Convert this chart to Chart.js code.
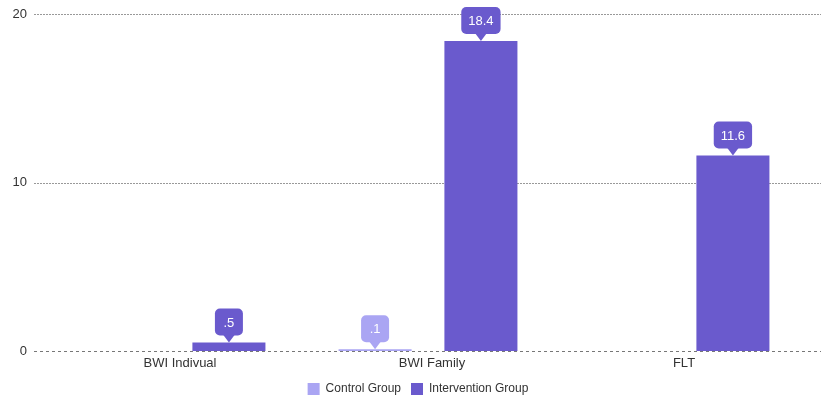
<!DOCTYPE html>
<html>
<head>
<meta charset="utf-8">
<script src="https://cdn.jsdelivr.net/npm/chart.js@4.4.1/dist/chart.umd.min.js"></script>
<style>
  html, body { margin: 0; padding: 0; background: #fff; }
  #wrap { width: 821px; height: 400px; }
</style>
</head>
<body>
<div id="wrap"><canvas id="myChart"></canvas></div>
<script>
const categories = ['BWI Indivual', 'BWI Family', 'FLT'];
const controlValues = [0, 0.1, 0];
const interventionValues = [0.5, 18.4, 11.6];
const yTicks = [0, 10, 20];

const controlColor = '#aaa5f3';
const interventionColor = '#6a5acd';
const font = '"Liberation Sans", Arial, sans-serif';

// short labels like ".5" instead of "0.5"
function fmt(v) {
  let s = String(v);
  if (s.startsWith('0.')) s = s.slice(1);
  return s;
}

const gridLines = {
  id: 'gridLines',
  beforeDatasetsDraw(chart) {
    const c = chart.ctx;
    const y = chart.scales.y;
    c.save();
    yTicks.forEach(t => {
      const py = Math.round(y.getPixelForValue(t)) + 0.5;
      c.beginPath();
      if (t === 0) {
        c.strokeStyle = '#777';
        c.setLineDash([3, 3]);
      } else {
        c.strokeStyle = '#999';
        c.setLineDash([2, 1]);
      }
      c.lineWidth = 1;
      c.moveTo(34, py);
      c.lineTo(chart.width, py);
      c.stroke();
    });
    c.restore();
  }
};

const valueTags = {
  id: 'valueTags',
  afterDatasetsDraw(chart) {
    const c = chart.ctx;
    c.save();
    c.font = '13px ' + font;
    c.textAlign = 'center';
    c.textBaseline = 'middle';
    chart.data.datasets.forEach((ds, i) => {
      const meta = chart.getDatasetMeta(i);
      meta.data.forEach((bar, j) => {
        const v = ds.data[j];
        if (!v) return;
        const txt = fmt(v);
        const w = Math.max(28, c.measureText(txt).width + 14);
        const h = 27, tip = 7, r = 5;
        const x = bar.x, yb = bar.y;
        const top = yb - tip - h;
        c.fillStyle = ds.backgroundColor;
        c.beginPath();
        c.roundRect(x - w / 2, top, w, h, r);
        c.fill();
        c.beginPath();
        c.moveTo(x - 6, top + h - 1);
        c.lineTo(x + 6, top + h - 1);
        c.lineTo(x, yb);
        c.closePath();
        c.fill();
        c.fillStyle = '#fff';
        c.fillText(txt, x, top + h / 2 + 1);
      });
    });
    c.restore();
  }
};

// legend sits a bit right of centre in the original
const legendShift = {
  id: 'legendShift',
  afterLayout(chart) {
    chart.legend.left += 15;
    chart.legend.right += 15;
  }
};

new Chart(document.getElementById('myChart'), {
  type: 'bar',
  data: {
    labels: categories,
    datasets: [
      {
        label: 'Control Group',
        data: controlValues,
        backgroundColor: controlColor,
        borderWidth: 0
      },
      {
        label: 'Intervention Group',
        data: interventionValues,
        backgroundColor: interventionColor,
        borderWidth: 0
      }
    ]
  },
  options: {
    responsive: true,
    maintainAspectRatio: false,
    animation: false,
    categoryPercentage: 0.84,
    barPercentage: 0.69,
    layout: { padding: { top: 14, right: 15, left: 0, bottom: -5 } },
    plugins: {
      legend: {
        position: 'bottom',
        labels: {
          boxWidth: 12,
          boxHeight: 12,
          padding: 10,
          color: '#333',
          font: { family: font, size: 12 }
        }
      },
      tooltip: { enabled: false }
    },
    scales: {
      x: {
        afterFit(scale) { scale.height = 22; },
        grid: { display: false, drawTicks: false },
        border: { display: false },
        ticks: {
          color: '#333',
          padding: 5,
          labelOffset: 4,
          font: { family: font, size: 13 }
        }
      },
      y: {
        min: 0,
        max: 20,
        afterFit(scale) {
          scale.width = 50;
          scale.paddingTop = 0;
          scale.paddingBottom = 0;
        },
        afterBuildTicks(scale) { scale.ticks = yTicks.map(v => ({ value: v })); },
        grid: { display: false, drawTicks: false },
        border: { display: false },
        ticks: {
          color: '#333',
          padding: 23,
          font: { family: font, size: 13 }
        }
      }
    }
  },
  plugins: [gridLines, valueTags, legendShift]
});
</script>
</body>
</html>
